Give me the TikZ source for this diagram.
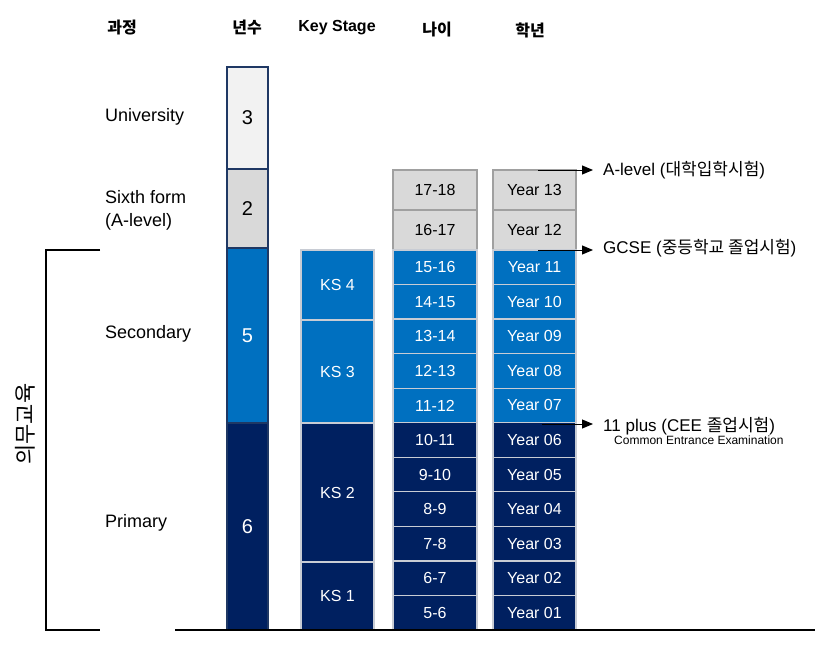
\documentclass[tikz,border=0pt]{standalone}
\usepackage{fontspec}
\setmainfont{Liberation Sans}
\newfontfamily\kr{Noto Sans CJK KR}
\usetikzlibrary{positioning,calc,arrows.meta}
\definecolor{navy}{HTML}{002060}
\definecolor{ukblue}{HTML}{0070C0}
\definecolor{paleg}{HTML}{F2F2F2}
\definecolor{midg}{HTML}{D9D9D9}
\definecolor{edge}{HTML}{1F3864}
\definecolor{lightedge}{HTML}{C8CCD4}
\definecolor{greyedge}{HTML}{A0A0A0}
\tikzset{
  yrs/.style={draw=edge,line width=2pt,minimum width=41pt,text=white,font=\fontsize{20}{24}\selectfont},
  ks/.style={draw=lightedge,line width=1.2pt,minimum width=73pt,text=white,font=\fontsize{16}{19}\selectfont},
  cell/.style={draw=lightedge,line width=1.2pt,minimum height=34.545pt,text=white,font=\fontsize{16}{19}\selectfont},
  greycell/.style={cell,draw=greyedge,fill=midg,text=black,minimum height=40pt},
  head/.style={font=\fontsize{16}{19}\selectfont\bfseries},
  lbl/.style={anchor=west,align=left,font=\fontsize{18}{23}\selectfont},
  note/.style={anchor=west,font=\fontsize{17}{20}\selectfont},
  exam/.style={-{Triangle[length=11pt,width=9pt]},line width=1pt,shorten >=10pt}
}
\begin{document}
\begin{tikzpicture}[x=1pt,y=-1pt,every node/.style={inner sep=0pt}]
    \useasboundingbox (0,0) rectangle (830,648);

    \node[head] (hCourse) at (122,28) {\kr 과정};
    \node[head] (hYears) at (247,28) {\kr 년수};
    \node[head] (hKS) at (337,28) {Key Stage};
    \node[head] (hAge) at (437,30) {\kr 나이};
    \node[head] (hGrade) at (530,30) {\kr 학년};

    \node[lbl] (uni) at (105,117) {University};
    \node[lbl] (sixth) at (105,210) {Sixth form\\(A-level)};
    \node[lbl] (sec) at (105,334) {Secondary};
    \node[lbl] (pri) at (105,523) {Primary};

    \node[yrs,fill=paleg,text=black,minimum height=102pt] (yUni) at (247.5,118) {3};
    \node[yrs,fill=midg,text=black,minimum height=79pt] (ySixth) at (247.5,208.5) {2};
    \node[yrs,fill=ukblue,minimum height=175pt] (ySec) at (247.5,335.5) {5};
    \node[yrs,fill=navy,minimum height=207pt] (yPri) at (247.5,526.5) {6};

    \node[ks,fill=ukblue,minimum height=70pt] (ks4) at (337.5,285) {KS 4};
    \node[ks,fill=ukblue,minimum height=103pt] (ks3) at (337.5,371.5) {KS 3};
    \node[ks,fill=navy,minimum height=139pt] (ks2) at (337.5,492.5) {KS 2};
    \node[ks,fill=navy,minimum height=68pt] (ks1) at (337.5,596) {KS 1};

    \node[greycell,minimum width=84pt] (age17) at (435,190) {17-18};
    \node[greycell,minimum width=84pt] (age16) at (435,230) {16-17};
    \node[greycell,minimum width=83pt] (yr13) at (534.5,190) {Year 13};
    \node[greycell,minimum width=83pt] (yr12) at (534.5,230) {Year 12};
    \foreach \a [count=\i from 0, evaluate=\a as \b using int(\a+1), evaluate=\a as \yr using int(\a-4)] in {15,14,...,5} {
        \ifnum\i<5 \def\fc{ukblue}\else\def\fc{navy}\fi
        \node[cell,fill=\fc,minimum width=84pt] (age\a) at (435,{250+(\i+0.5)*34.545}) {\a-\b};
        \node[cell,fill=\fc,minimum width=83pt] (yr\yr) at (534.5,{250+(\i+0.5)*34.545}) {Year \ifnum\yr<10 0\fi\yr};
    }

    \draw[line width=1.2pt] (100,250) -- (46,250) -- (46,630) -- (100,630);
    \draw[line width=1.2pt] (175,630) -- (815,630);
    \node[rotate=90,font=\fontsize{22}{26}\selectfont\kr] (duty) at (25,424) {의무교육};

    \node[note] (alevel) at (603,170) {A-level ({\kr 대학입학시험})};
    \node[note] (gcse) at (603,248) {GCSE ({\kr 중등학교 졸업시험})};
    \node[note] (plus) at (603,426) {11 plus (CEE {\kr 졸업시험})};
    \node[anchor=north west,font=\fontsize{12}{14}\selectfont] (cee) at (614,436) {Common Entrance Examination};
    \coordinate (aFrom) at (538,170);
    \coordinate (gFrom) at (538,250);
    \coordinate (pFrom) at (542,424);
    \draw[exam] (aFrom) -- (aFrom -| alevel.west);
    \draw[exam] (gFrom) -- (gFrom -| gcse.west);
    \draw[exam] (pFrom) -- (pFrom -| plus.west);
\end{tikzpicture}
\end{document}
